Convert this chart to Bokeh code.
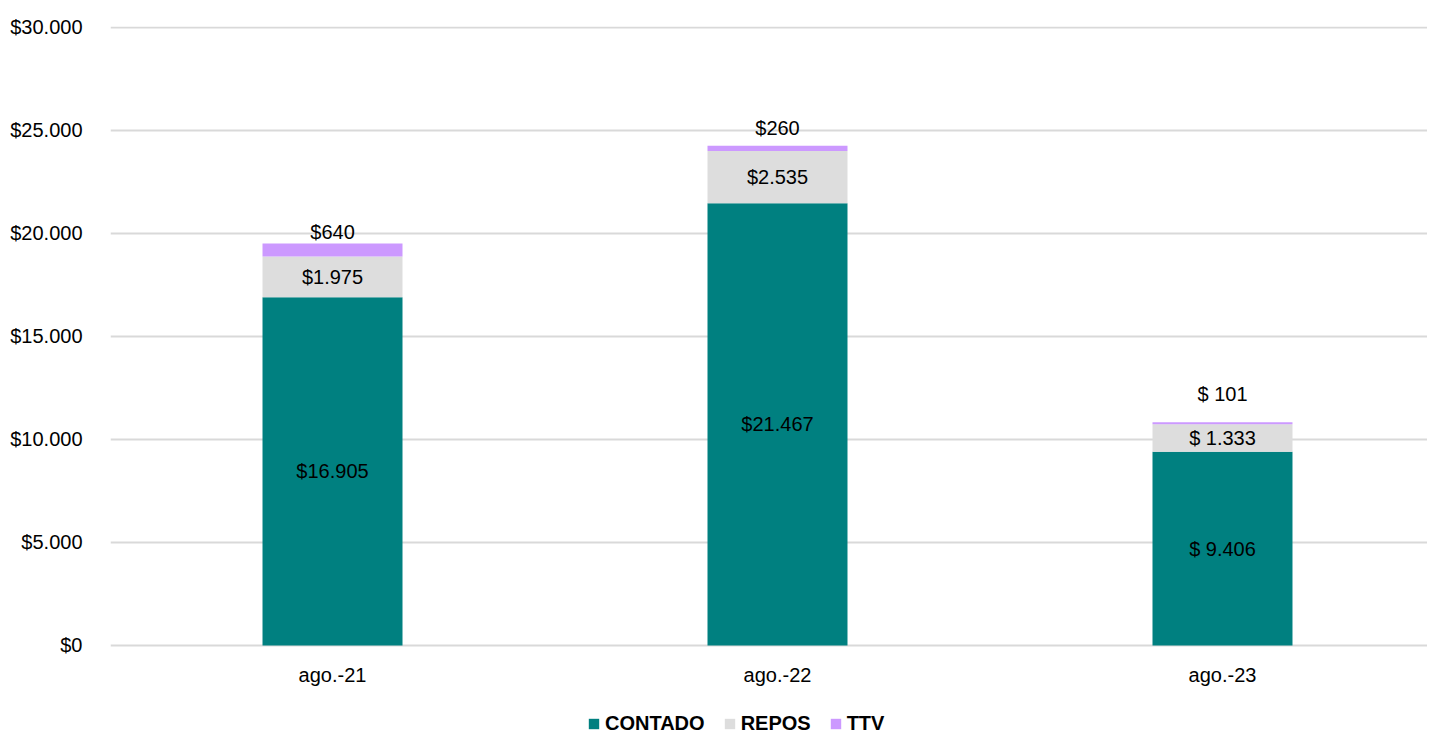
from bokeh.plotting import figure
from bokeh.models import ColumnDataSource, FixedTicker, Legend, LegendItem, Range1d
from bokeh.core.properties import value
from bokeh.embed import file_html
from bokeh.resources import INLINE

# ---- data ----
categories = ["ago.-21", "ago.-22", "ago.-23"]
contado = [16905, 21467, 9406]
repos = [1975, 2535, 1333]
ttv = [640, 260, 101]
contado_labels = ["$16.905", "$21.467", "$ 9.406"]
repos_labels = ["$1.975", "$2.535", "$ 1.333"]
ttv_labels = ["$640", "$260", "$ 101"]
y_ticks = [0, 5000, 10000, 15000, 20000, 25000, 30000]
y_tick_labels = ["$0", "$5.000", "$10.000", "$15.000", "$20.000", "$25.000", "$30.000"]

# ---- styling ----
FONT = "Liberation Sans"
FS = "20px"
C_CONTADO = "#008080"
C_REPOS = "#DDDDDD"
C_TTV = "#CC99FF"
GRID = "#D9D9D9"
ttv_offsets = [-11, -18, -28]  # px above bar top (style)
CAT_OFFSET = 30                # px below the zero line (style)

xs = list(range(len(categories)))
totals = [c + r + t for c, r, t in zip(contado, repos, ttv)]

src = ColumnDataSource(dict(
    x=xs, CONTADO=contado, REPOS=repos, TTV=ttv,
    c_mid=[c / 2 for c in contado],
    r_mid=[c + r / 2 for c, r in zip(contado, repos)],
    total=totals, ttv_off=ttv_offsets,
    cl=contado_labels, rl=repos_labels, tl=ttv_labels,
    base=[0] * len(categories), cat=categories,
))

# frame runs to the bottom of the canvas; the area below 0 holds category labels and legend
p = figure(frame_width=1317, frame_height=709, output_backend="svg", toolbar_location=None,
           x_range=Range1d(-0.4989, 2.4607), y_range=Range1d(-4369, 30048),
           x_axis_location=None,
           min_border_left=110, min_border_right=0, min_border_top=26, min_border_bottom=0)
p.outline_line_color = None
p.background_fill_color = "white"

renderers = p.vbar_stack(["CONTADO", "REPOS", "TTV"], x="x", width=0.3146, source=src,
                         color=[C_CONTADO, C_REPOS, C_TTV], line_color=None)

txt = dict(text_font=value(FONT), text_font_size=FS, text_color="black", text_align="center",
           text_baseline="middle")
p.text(x="x", y="c_mid", text="cl", source=src, **txt)
p.text(x="x", y="r_mid", text="rl", source=src, **txt)
p.text(x="x", y="total", text="tl", y_offset="ttv_off", source=src, **txt)
# category labels under each bar
p.text(x="x", y="base", text="cat", y_offset=CAT_OFFSET, source=src, **txt)

# y axis
p.yaxis.ticker = FixedTicker(ticks=y_ticks)
p.yaxis.major_label_overrides = {t: l for t, l in zip(y_ticks, y_tick_labels)}
p.yaxis.axis_line_color = None
p.yaxis.major_tick_line_color = None
p.yaxis.minor_tick_line_color = None
p.yaxis.major_tick_out = 0
p.yaxis.major_tick_in = 0
p.yaxis.major_label_standoff = 28
p.yaxis.major_label_text_font = FONT
p.yaxis.major_label_text_font_size = FS
p.yaxis.major_label_text_color = "black"

p.xgrid.grid_line_color = None
p.ygrid.grid_line_color = GRID
p.ygrid.grid_line_width = 2
p.ygrid.ticker = FixedTicker(ticks=y_ticks)

legend = Legend(items=[LegendItem(label="CONTADO", renderers=[renderers[0]]),
                       LegendItem(label="REPOS", renderers=[renderers[1]]),
                       LegendItem(label="TTV", renderers=[renderers[2]])],
                orientation="horizontal", location=(477, 0))
legend.label_text_font = FONT
legend.label_text_font_size = FS
legend.label_text_font_style = "bold"
legend.label_text_color = "black"
legend.label_height = 14
legend.glyph_width = 13
legend.glyph_height = 13
legend.label_standoff = 5
legend.spacing = 18
legend.padding = 0
legend.margin = 0
legend.border_line_color = None
legend.background_fill_alpha = 0
p.add_layout(legend, "center")

open("out.html", "w").write(file_html(p, INLINE))
